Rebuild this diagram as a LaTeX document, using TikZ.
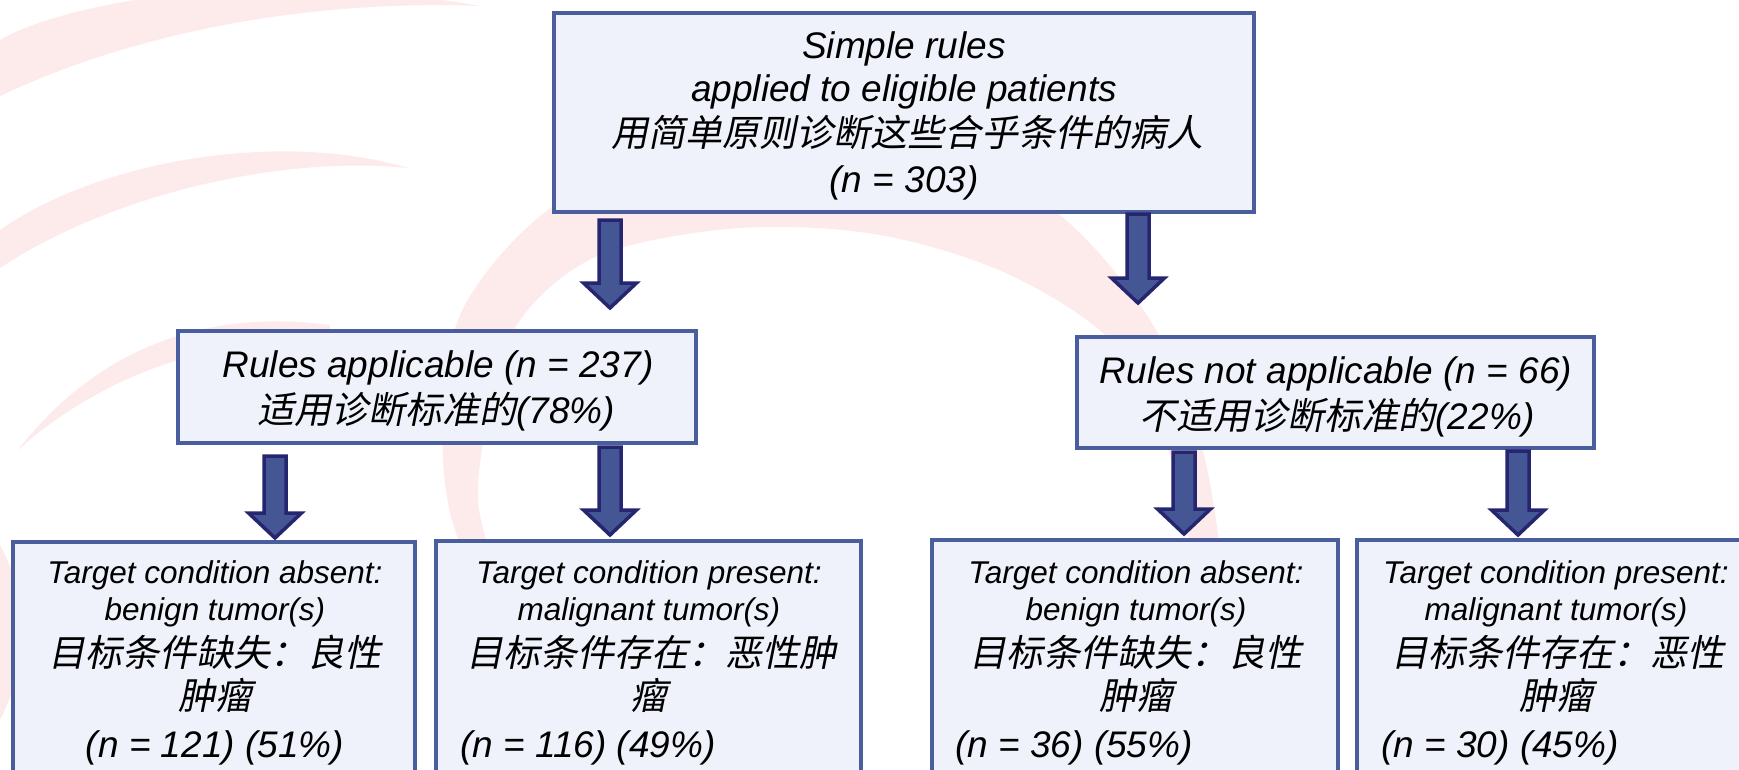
\documentclass[tikz,border=0pt]{standalone}
\usepackage{fontspec}
\setmainfont{Liberation Sans}
\newfontfamily\cjkfont[FakeSlant=0.2]{Noto Sans CJK SC}
\usetikzlibrary{calc}
\definecolor{boxborder}{RGB}{74,94,158}
\definecolor{boxfill}{RGB}{239,242,251}
\definecolor{arrfill}{RGB}{68,87,148}
\definecolor{arrline}{RGB}{38,38,112}
\definecolor{wmpink}{RGB}{253,235,236}
\newcommand\zh[1]{{\cjkfont\upshape #1}}
\newcommand\blockarrow[2]{%
  \path[arrowshape] let \p1=(#1), \p2=(#2) in
    (\x1-11pt,\y1) -- (\x1+11pt,\y1) -- (\x1+11pt,\y2+25pt) -- (\x1+26.5pt,\y2+25pt)
    -- (\x1,\y2) -- (\x1-26.5pt,\y2+25pt) -- (\x1-11pt,\y2+25pt) -- cycle;}
\tikzset{
  box/.style={draw=boxborder, fill=boxfill, line width=3.5pt, rectangle, inner sep=0pt, outer sep=0pt, anchor=north west},
  arrowshape/.style={draw=arrline, fill=arrfill, line width=3.5pt, line join=miter},
  big/.style={anchor=base, inner sep=0pt, font=\itshape\fontsize{37}{44}\selectfont},
  small/.style={anchor=base, inner sep=0pt, font=\itshape\fontsize{31.5}{38}\selectfont},
  nwest/.style={big, anchor=base west},
}
\begin{document}
\begin{tikzpicture}[x=1pt,y=-1pt]
\useasboundingbox (0,0) rectangle (1739,770);
\fill[white] (0,0) rectangle (1739,770);
\clip (0,0) rectangle (1739,770);
% faint watermark arcs
\fill[wmpink] (0,40) .. controls (60,5) and (250,-35) .. (480,6) .. controls (330,0) and (150,25) .. (0,96) -- cycle;
\fill[wmpink] (0,230) .. controls (100,160) and (280,130) .. (408,168) .. controls (280,155) and (110,195) .. (0,268) -- cycle;
\fill[wmpink] (18,450) .. controls (80,370) and (180,305) .. (330,325) -- (330,340) .. controls (200,335) and (90,385) .. (18,450) -- cycle;
\fill[wmpink] (0,545) .. controls (30,600) and (30,660) .. (0,720) -- cycle;
\fill[wmpink] plot[smooth cycle, tension=0.55] coordinates {
  (512,660) (452,520) (443,410) (458,320) (505,250) (570,195) (660,160) (800,140) (950,155)
  (1060,215) (1150,320) (1200,440) (1222,560) (1236,660)
  (1200,660) (1192,560) (1168,450) (1115,345) (1010,275) (880,235) (740,228)
  (600,255) (520,320) (490,410) (478,500) (500,580) (535,660)};
% boxes
\node[box, minimum width=700pt, minimum height=199pt] (top) at (554,13) {};
\node[box, minimum width=518pt, minimum height=112pt] (ra) at (178,331) {};
\node[box, minimum width=517pt, minimum height=111pt] (rna) at (1077,337) {};
\node[box, minimum width=402pt, minimum height=260pt] (b1) at (13,542) {};
\node[box, minimum width=425pt, minimum height=260pt] (b2) at (436,541) {};
\node[box, minimum width=406pt, minimum height=260pt] (b3) at (932,540) {};
\node[box, minimum width=423pt, minimum height=260pt] (b4) at (1357,540) {};
% block arrows
\blockarrow{[xshift=-294pt,yshift=-8pt]top.south}{[yshift=23pt]ra.north}
\blockarrow{[xshift=234pt,yshift=-2pt]top.south}{[yshift=34pt]rna.north}
\blockarrow{[xshift=-162pt,yshift=-13pt]ra.south}{[yshift=4pt]b1.north}
\blockarrow{[xshift=173pt,yshift=-4pt]ra.south}{[yshift=6pt]b2.north}
\blockarrow{[xshift=-151.5pt,yshift=-4pt]rna.south}{[yshift=6pt]b3.north}
\blockarrow{[xshift=182.5pt,yshift=-3pt]rna.south}{[yshift=5pt]b4.north}
% top box text
\node[big] (t1) at (904,59) {Simple rules};
\node[big] (t2) at (904,102) {applied to eligible patients};
\node[big] (t3) at (907,147) {\zh{用简单原则诊断这些合乎条件的病人}};
\node[big] (t4) at (904,193) {(n = 303)};
% second row text
\node[big] (ra1) at (438,377) {Rules applicable (n = 237)};
\node[big] (ra2) at (436,423) {\zh{适用诊断标准的}(78\%)};
\node[big] (rn1) at (1336,383) {Rules not applicable (n = 66)};
\node[big] (rn2) at (1337,429) {\zh{不适用诊断标准的}(22\%)};
% box 1
\node[small] (p1) at (215,583) {Target condition absent:};
\node[small] (p2) at (215,620) {benign tumor(s)};
\node[big] (p3) at (215,666) {\zh{目标条件缺失：良性}};
\node[big] (p4) at (215,709) {\zh{肿瘤}};
\node[big] (p5) at (215,757) {(n = 121) (51\%)};
% box 2
\node[small] (q1) at (649,583) {Target condition present:};
\node[small] (q2) at (649,620) {malignant tumor(s)};
\node[big] (q3) at (651,666) {\zh{目标条件存在：恶性肿}};
\node[big] (q4) at (649,709) {\zh{瘤}};
\node[nwest] (q5) at (460,757) {(n = 116) (49\%)};
% box 3
\node[small] (r1) at (1136,583) {Target condition absent:};
\node[small] (r2) at (1136,620) {benign tumor(s)};
\node[big] (r3) at (1136,666) {\zh{目标条件缺失：良性}};
\node[big] (r4) at (1136,709) {\zh{肿瘤}};
\node[nwest] (r5) at (955,757) {(n = 36) (55\%)};
% box 4
\node[small] (s1) at (1556,583) {Target condition present:};
\node[small] (s2) at (1556,620) {malignant tumor(s)};
\node[big] (s3) at (1558,666) {\zh{目标条件存在：恶性}};
\node[big] (s4) at (1556,709) {\zh{肿瘤}};
\node[nwest] (s5) at (1381,757) {(n = 30) (45\%)};
\end{tikzpicture}
\end{document}
